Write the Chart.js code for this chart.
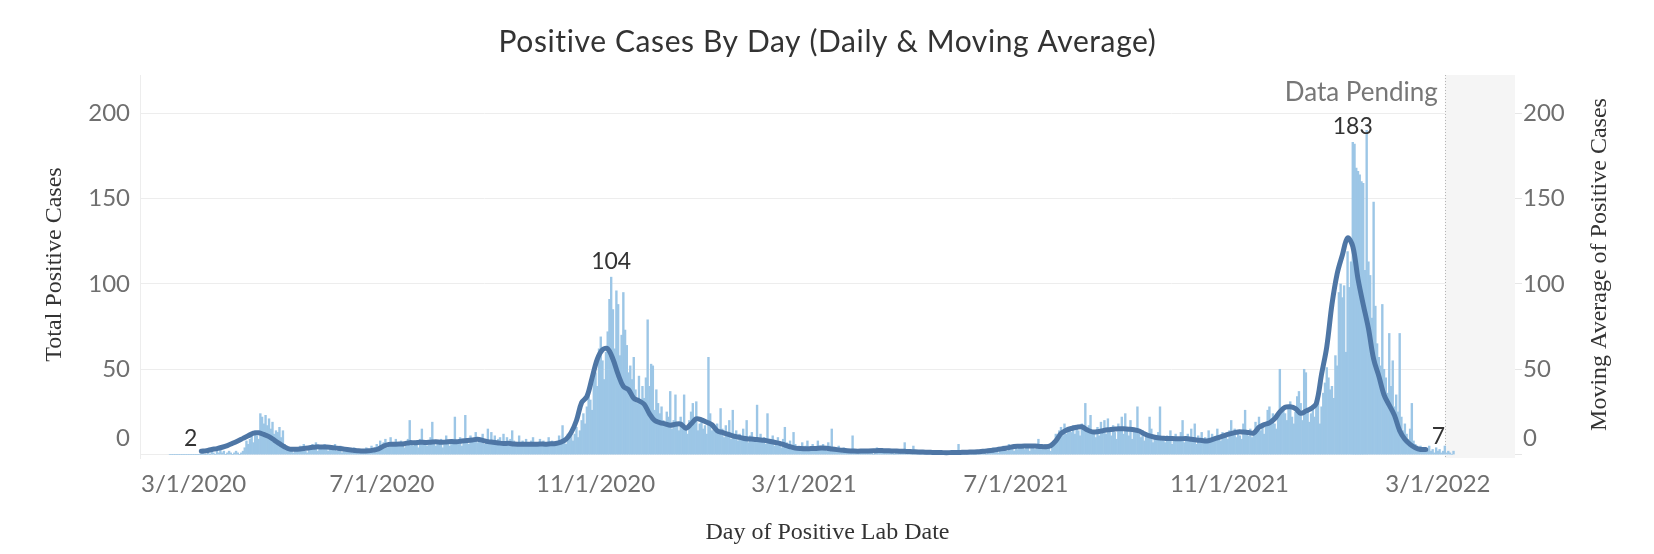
<!DOCTYPE html>
<html><head><meta charset="utf-8">
<script src="https://cdn.jsdelivr.net/npm/chart.js@4.4.0/dist/chart.umd.min.js"></script>
<style>html,body{margin:0;padding:0;background:#fff;}canvas{display:block;}</style>
</head><body>
<canvas id="c" width="1654" height="554"></canvas>
<script>
// ---------- DATA (daily positive cases; day 0 = 3/1/2020) ----------
const mar2020 = [0,0,0,0,0,0,0,0,0,0,0,0, 0,0,0,0,0,0,0,1,0,0,1,0,2,1,0,2,1,3,1];
const apr2020 = [2,0,1,2,1,0,1,2,1,0,1,2,4,8,6,9,12,7,14,11,9,24,22,18,23,17,21,15,19,12];
const may2020 = [14,13,16,10,14,6,4,3,2,3,1,3,2,4,5,3,6,2,1,4,5,6,3,7,2,4,5,3,6,4,2];
const jun2020 = [5,3,4,6,2,3,5,1,4,3,2,2,3,1,4,3,1,2,3,2,1,4,2,3,5,2,4,6,3,8];
const jul2020 = [5,7,9,4,6,10,5,7,9,6,5,8,6,4,7,9,20,6,5,8,7,4,9,15,6,8,5,7,10,19,6];
const aug2020 = [5,8,7,9,4,6,11,8,5,7,9,22,8,7,10,5,9,23,7,6,11,8,9,13,7,10,8,12,6,9,15];
const sep2020 = [7,13,8,11,6,9,10,7,12,6,10,7,9,14,8,6,7,11,5,8,6,9,7,5,8,10,6,7,5,9];
const oct2020 = [6,8,7,6,10,5,8,7,6,7,11,8,17,9,6,12,10,14,8,12,16,10,14,20,24,18,28,35,32,26,45];
const nov2020 = [48,40,62,69,55,44,60,72,91,104,85,62,96,88,58,70,95,73,64,48,52,44,57,38,30,46,30,40,33,45];
const dec2020 = [79,40,53,52,26,38,30,24,28,20,18,25,22,37,15,20,35,18,14,22,19,35,16,12,20,25,30,22,31,14,18];
const jan2021 = [21,15,17,12,57,24,14,16,13,18,12,27,15,10,17,12,20,9,26,11,14,8,12,10,15,9,20,7,11,13,8];
const feb2021 = [10,29,9,12,8,10,6,24,9,7,11,5,8,10,6,4,9,16,7,5,8,4,13,6,3,5,4,7];
const mar2021 = [3,5,8,4,2,6,4,3,8,5,3,6,4,2,7,5,15,3,4,2,5,3,1,4,2,3,1,2,11,2,1];
const apr2021 = [3,2,3,2,1,2,1,3,1,0,2,4,1,2,3,1,2,1,3,2,1,0,2,1,3,2,1,7,1,2];
const may2021 = [3,1,5,1,2,1,0,2,1,1,0,2,1,0,1,2,0,1,1,0,2,1,0,1,0,1,2,1,6,1,0];
const jun2021 = [2,1,2,1,1,2,1,0,2,1,3,1,2,0,3,2,1,4,2,3,1,4,2,5,3,2,6,3,4,2];
const jul2021 = [5,3,4,6,4,3,5,6,2,4,5,3,6,9,4,5,3,6,4,5,2,6,8,12,10,14,16,11,18,12,15];
const aug2021 = [14,13,17,12,16,14,11,18,15,30,13,17,23,12,14,10,16,11,19,13,20,12,21,15,11,17,13,9,18,14,22];
const sep2021 = [12,24,16,11,20,9,13,15,28,12,10,14,8,13,12,22,15,7,11,9,13,28,8,10,7,11,9,14,6,10];
const oct2021 = [12,8,9,13,20,7,10,12,8,15,9,18,6,11,8,13,7,10,9,14,8,12,10,9,15,11,8,13,10,12,9];
const nov2021 = [14,20,12,15,10,14,11,9,18,26,13,11,15,10,12,19,16,22,14,18,12,17,26,28,21,24,18,15,22,50];
const dec2021 = [26,28,24,20,27,31,22,18,25,34,37,30,20,50,48,26,19,24,29,22,30,31,18,28,36,42,51,45,38,40,33];
const jan2022 = [58,52,95,100,92,99,60,119,98,113,183,182,168,166,164,160,159,108,190,113,105,80,148,87,65,57,52,88,50,45,36];
const feb2022 = [71,40,55,28,35,25,71,22,14,18,12,9,15,30,8,6,5,4,5,3,4,2,3,5,2,3,1,4];
const mar2022 = [2,3,1,2,5,1,2,1,0,2];

// moving average of positive cases, one reading every 3 days starting at day 18
const maStartDay = 18;
const maStepDays = 3;
const movingAvg = [
  2,2.3,3,3.5,4.3,5.3,6.6,8,9.5,11,
  12.6,12.8,11.8,10.5,8.5,6.4,4.5,3.2,3.1,3.3,
  3.7,4.1,4.5,4.5,4.4,4.2,3.8,3.4,3,2.6,
  2.3,2.1,2.2,2.6,3.3,5,6,6.1,6.2,6.4,
  7,6.9,7.3,7.1,7.3,7.5,7.2,7.4,7.6,
  7.5,8,8.2,8.5,9,8.3,7.6,7.2,6.8,6.5,
  6.6,6.2,6.1,6.0,6.1,6.0,6.2,6.1,6.3,6.5,
  7.3,9,13,20,30.5,34,45,56,61.5,62,
  56,47,40,38,33,31.5,29.5,24,20,18.8,
  18,17.2,17.8,17.9,15.5,18,21,20.3,19,17.5,
  14,13,12,11,10.3,9.6,9.2,9,8.7,
  8.4,7.8,7.2,6.6,5.6,4.6,3.8,3.5,3.4,3.5,
  3.6,3.8,3.7,3.3,2.9,2.5,2.2,2.1,2,2.1,
  2.1,2.2,2.4,2.3,2.2,2.1,2,1.9,1.8,1.6,
  1.5,1.4,1.3,1.2,1.2,1.1,1.2,1.2,1.3,1.4,
  1.5,1.6,1.9,2.2,2.6,3.1,3.6,4.1,4.8,
  4.9,5,5,5.1,4.8,4.6,5.2,8,12.3,14.3,
  15.3,16,16.3,14.5,13.3,13.4,14,14.5,14.8,15.2,
  15.1,14.9,14.6,13.8,12.2,10.9,10.2,9.7,9.5,9.4,
  9.3,9.3,9.4,9,8.6,8.3,8,8.8,9.8,10.8,
  11.8,12.6,13.3,13.2,12.9,12.7,16,17.6,18.6,21,
  25,27.7,28,27,24.2,25.5,27,30,47,
  63,88,106,117,127,122,103,88,74,56,
  46,35,29,23,14,9,6,4,3,3
];
const lineEndLabels = [2, 7];
const peakLabelDays = [254, 681];
const xTickLabels = ['3/1/2020','7/1/2020','11/1/2020','3/1/2021','7/1/2021','11/1/2021','3/1/2022'];
const yTicks = [0, 50, 100, 150, 200];
const pendingFrom = '3/5/2022';
const chartTitle = 'Positive Cases By Day (Daily & Moving Average)';
const xTitle = 'Day of Positive Lab Date';
const yTitle = 'Total Positive Cases';
const y2Title = 'Moving Average of Positive Cases';

// ---------- BUILD ----------
function dayIndex(s){const [m,d,y]=s.split('/').map(Number);return Math.round((Date.UTC(y,m-1,d)-Date.UTC(2020,2,1))/86400000);}
const dailyCases = [].concat(mar2020,apr2020,may2020,jun2020,jul2020,aug2020,sep2020,oct2020,nov2020,dec2020,
  jan2021,feb2021,mar2021,apr2021,may2021,jun2021,jul2021,aug2021,sep2021,oct2021,nov2021,dec2021,
  jan2022,feb2022,mar2022);
const barData = dailyCases.map((v,i)=>({x:i,y:v}));
const maData = movingAvg.map((v,i)=>({x:maStartDay+i*maStepDays,y:v}));

const decor = {
  id:'decor',
  beforeDatasetsDraw(chart){
    const {ctx, chartArea:a, scales:{x}} = chart;
    const x0 = x.getPixelForValue(dayIndex(pendingFrom));
    ctx.save();
    ctx.fillStyle = '#f5f5f5';
    ctx.fillRect(x0, a.top, a.right - x0, a.bottom - a.top);
    ctx.strokeStyle = '#b5b5b5'; ctx.lineWidth = 1; ctx.setLineDash([1,2]);
    ctx.beginPath(); ctx.moveTo(Math.round(x0)+0.5, a.top); ctx.lineTo(Math.round(x0)+0.5, a.bottom); ctx.stroke();
    ctx.setLineDash([]);
    ctx.fillStyle = '#777'; ctx.font = '26px Lato'; ctx.textAlign = 'right'; ctx.textBaseline = 'middle';
    ctx.fillText('Data Pending', x0 - 7, a.top + 18);
    ctx.restore();
  },
  afterDraw(chart){
    const {ctx, chartArea:a, scales:{x, y}} = chart;
    ctx.save();
    ctx.textBaseline = 'middle';
    // chart title
    ctx.font = '30px Lato'; ctx.fillStyle = '#333'; ctx.textAlign = 'center';
    try { ctx.letterSpacing = '0.6px'; } catch(e) {}
    ctx.fillText(chartTitle, (a.left + a.right) / 2, 42);
    try { ctx.letterSpacing = '0px'; } catch(e) {}
    // y tick labels (both sides)
    ctx.font = '24px Lato'; ctx.fillStyle = '#6f6f6f';
    yTicks.forEach(v=>{
      const py = y.getPixelForValue(v) - (v === 0 ? 16 : 0);
      ctx.textAlign = 'right'; ctx.fillText(String(v), a.left - 10, py);
      ctx.textAlign = 'left'; ctx.fillText(String(v), a.right + 8, py);
    });
    // x tick labels, kept inside the axis span
    ctx.textAlign = 'center';
    xTickLabels.forEach(s=>{
      const w = ctx.measureText(s).width;
      let cx = x.getPixelForValue(dayIndex(s));
      if (cx - w/2 < a.left + 1) cx = a.left + 1 + w/2;
      if (cx + w/2 > a.right - 1) cx = a.right - 1 - w/2;
      ctx.fillText(s, cx, a.bottom + 26);
    });
    // axis titles
    ctx.font = '24px "Liberation Serif"'; ctx.fillStyle = '#333';
    ctx.fillText(xTitle, (a.left + a.right) / 2, 533);
    const midY = (a.top + a.bottom) / 2 - 2;
    ctx.save(); ctx.translate(55, midY); ctx.rotate(-Math.PI/2); ctx.fillText(yTitle, 0, 0); ctx.restore();
    ctx.save(); ctx.translate(1600, midY); ctx.rotate(-Math.PI/2); ctx.fillText(y2Title, 0, 0); ctx.restore();
    // mark labels
    ctx.font = '23px Lato'; ctx.fillStyle = '#333'; ctx.textAlign = 'center';
    peakLabelDays.forEach(d=>{
      ctx.fillText(String(dailyCases[d]), x.getPixelForValue(d), y.getPixelForValue(dailyCases[d]) - 16);
    });
    const first = maData[0], last = maData[maData.length-1];
    ctx.textAlign = 'right';
    ctx.fillText(String(lineEndLabels[0]), x.getPixelForValue(first.x) - 4, y.getPixelForValue(first.y) - 13);
    ctx.textAlign = 'left';
    ctx.fillText(String(lineEndLabels[1]), x.getPixelForValue(last.x) + 6, y.getPixelForValue(last.y) - 13);
    ctx.restore();
  }
};

new Chart(document.getElementById('c'), {
  type:'bar',
  data:{datasets:[
    {type:'line', label:y2Title, data:maData, yAxisID:'y2', xAxisID:'x',
     borderColor:'#4e76a5', borderWidth:5, pointRadius:0, tension:0.35, order:0, borderCapStyle:'round', borderJoinStyle:'round'},
    {type:'bar', label:yTitle, data:barData, yAxisID:'y', xAxisID:'x',
     backgroundColor:'#9cc6e6', barPercentage:1, categoryPercentage:1, order:1}
  ]},
  options:{
    responsive:false, animation:false, devicePixelRatio:1,
    layout:{padding:{top:75, left:0, right:0, bottom:0}},
    plugins:{legend:{display:false}, tooltip:{enabled:false}, title:{display:false}},
    scales:{
      x:{type:'linear', min:-17.3, max:774.4, offset:false,
        grid:{display:false}, border:{display:false},
        afterBuildTicks:(s)=>{ s.ticks = xTickLabels.map(t=>({value:dayIndex(t)})); },
        ticks:{display:false},
        afterFit:(s)=>{ s.height = 96; }
      },
      y:{type:'linear', position:'left', min:-2, max:222.5,
        afterBuildTicks:(s)=>{ s.ticks = yTicks.map(v=>({value:v})); },
        ticks:{display:false},
        grid:{color:'#ededed', lineWidth:1, drawTicks:false},
        border:{display:true, color:'#ededed'},
        afterFit:(s)=>{ s.width = 140; }
      },
      y2:{type:'linear', position:'right', min:-2, max:222.5,
        afterBuildTicks:(s)=>{ s.ticks = yTicks.map(v=>({value:v})); },
        ticks:{display:false},
        grid:{display:true, drawOnChartArea:false, drawTicks:true, tickLength:7, color:'#e6e6e6'},
        border:{display:false},
        afterFit:(s)=>{ s.width = 139; }
      }
    }
  },
  plugins:[decor]
});
</script>
</body></html>
